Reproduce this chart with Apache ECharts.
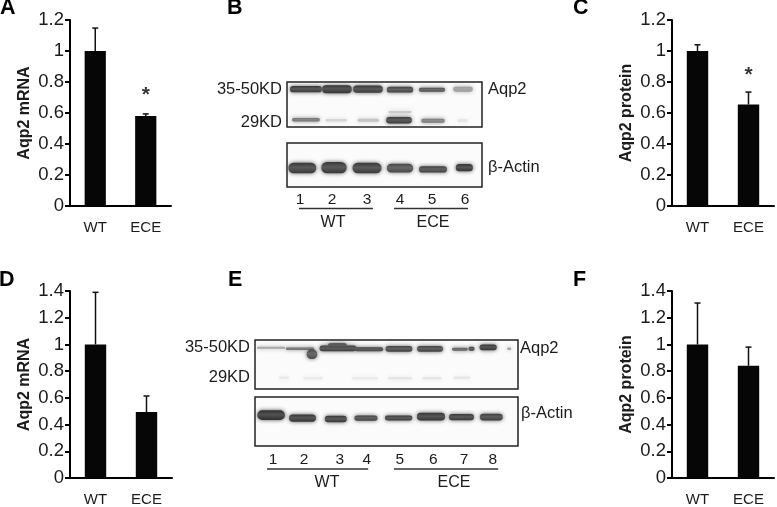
<!DOCTYPE html>
<html>
<head>
<meta charset="utf-8">
<style>
  html, body { margin: 0; padding: 0; background: #fff; }
  #chart { width: 777px; height: 507px; }
</style>
</head>
<body>
<div id="chart"></div>
<script src="https://cdn.jsdelivr.net/npm/echarts@6/dist/echarts.min.js"></script>
<script>
const categories = ['WT', 'ECE']
const groupNames = ['WT', 'ECE']

// bar heights and the top of each error bar
const mrnaA = [1, 0.58]
const mrnaAErr = [1.148, 0.594]
const proteinC = [1, 0.655]
const proteinCErr = [1.04, 0.735]
const mrnaD = [1, 0.494]
const mrnaDErr = [1.39, 0.614]
const proteinF = [1, 0.84]
const proteinFErr = [1.31, 0.98]
const starA = [null, 0.715]
const starC = [null, 0.845]

// blot bands: [lane, level on membrane (0 top, 1 bottom), signal, width in lanes, height in levels]
const blotBAqp2 = [
  [1.18, 0.16, 0.9, 0.97, 0.14], [2.12, 0.16, 0.92, 0.9, 0.18], [3.06, 0.16, 0.9, 0.9, 0.16],
  [4.03, 0.17, 0.85, 0.8, 0.13], [5.0, 0.17, 0.78, 0.8, 0.09], [5.94, 0.16, 0.42, 0.6, 0.11],
  [4.03, 0.67, 0.2, 0.7, 0.05],
  [1.18, 0.84, 0.62, 0.85, 0.08], [2.1, 0.85, 0.14, 0.65, 0.06], [3.07, 0.85, 0.24, 0.65, 0.07],
  [4.0, 0.85, 0.88, 0.78, 0.14], [5.03, 0.86, 0.58, 0.72, 0.09], [5.93, 0.86, 0.05, 0.3, 0.06]
]
const blotBActin = [
  [1.07, 0.57, 0.9, 0.85, 0.24], [2.03, 0.56, 0.9, 0.77, 0.26], [3.03, 0.57, 0.9, 0.88, 0.24],
  [4.03, 0.57, 0.82, 0.8, 0.2], [5.03, 0.6, 0.85, 0.85, 0.14], [5.98, 0.56, 0.92, 0.52, 0.16]
]
const blotEAqp2 = [
  [0.94, 0.16, 0.4, 0.9, 0.04], [1.86, 0.18, 0.65, 0.9, 0.05], [2.24, 0.29, 0.8, 0.34, 0.2],
  [3.07, 0.17, 0.88, 1.18, 0.12], [3.05, 0.11, 0.85, 0.6, 0.09], [4.06, 0.19, 0.85, 0.9, 0.08],
  [5.01, 0.18, 0.85, 0.86, 0.12], [6.0, 0.18, 0.85, 0.83, 0.12], [6.95, 0.19, 0.72, 0.5, 0.06],
  [7.32, 0.18, 0.85, 0.2, 0.08], [7.85, 0.15, 0.92, 0.55, 0.12], [8.52, 0.18, 0.4, 0.13, 0.05],
  [1.35, 0.77, 0.03, 0.32, 0.05], [2.27, 0.78, 0.02, 0.62, 0.05], [3.93, 0.78, 0.02, 0.82, 0.05],
  [5.04, 0.78, 0.05, 0.76, 0.05], [6.06, 0.78, 0.05, 0.6, 0.05], [7.02, 0.77, 0.04, 0.54, 0.05]
]
const blotEActin = [
  [0.94, 0.37, 0.95, 0.88, 0.2], [1.94, 0.43, 0.92, 0.86, 0.15], [3.0, 0.45, 0.9, 0.7, 0.13],
  [3.96, 0.43, 0.85, 0.74, 0.11], [5.0, 0.43, 0.88, 0.88, 0.1], [6.03, 0.4, 0.92, 0.9, 0.16],
  [7.0, 0.41, 0.9, 0.8, 0.13], [7.95, 0.41, 0.88, 0.73, 0.14]
]

// lane number positions, in lanes, and [start, end, label position] of each group line
const lanesB = [1, 1.97, 3.03, 4.03, 5, 6]
const lanesE = [1, 1.99, 3.13, 3.99, 5.04, 6.1, 7.08, 8]
const groupsB = [[0.97, 3.21, 2.0], [3.85, 6.09, 5.03]]
const groupsE = [[0.81, 4.03, 2.72], [4.85, 8.17, 6.76]]

const font = '"Liberation Sans", Arial, sans-serif'
const ink = '#1c1c1c'

const grids = []
const xAxes = []
const yAxes = []
const series = []

// one bar panel of the figure
function addBars(rect, title, yMax, values, errTops, stars) {
  const i = grids.length
  grids.push(rect)
  xAxes.push({
    gridIndex: i,
    type: 'category',
    data: categories,
    axisLine: { lineStyle: { color: '#000', width: 2 } },
    axisTick: { length: 4, lineStyle: { color: '#000', width: 2 } },
    axisLabel: { color: ink, fontFamily: font, fontSize: 15, margin: 14 },
  })
  yAxes.push({
    gridIndex: i,
    type: 'value',
    min: 0,
    max: yMax,
    interval: 0.2,
    name: title,
    nameLocation: 'middle',
    nameGap: rect.nameGap,
    nameTextStyle: { color: ink, fontFamily: font, fontSize: 16, fontWeight: 'bold' },
    splitLine: { show: false },
    axisLine: { show: true, lineStyle: { color: '#000', width: 2 } },
    axisTick: { show: true, length: 5, lineStyle: { color: '#000', width: 2 } },
    axisLabel: { color: ink, fontFamily: font, fontSize: 18.5, margin: 6 },
  })
  series.push({
    type: 'bar',
    xAxisIndex: i,
    yAxisIndex: i,
    data: values,
    barWidth: '42%',
    itemStyle: { color: '#060606' },
    silent: true,
  })
  series.push({
    type: 'custom',
    xAxisIndex: i,
    yAxisIndex: i,
    data: categories.map((c, k) => [k, values[k], errTops[k]]),
    renderItem(params, api) {
      const base = api.coord([api.value(0), api.value(1)])
      const top = api.coord([api.value(0), api.value(2)])
      const line = { stroke: '#111', lineWidth: 1.5 }
      return {
        type: 'group',
        children: [
          { type: 'line', shape: { x1: base[0], y1: base[1], x2: top[0], y2: top[1] }, style: line },
          { type: 'line', shape: { x1: top[0] - 3, y1: top[1], x2: top[0] + 3, y2: top[1] }, style: line },
        ],
      }
    },
    silent: true,
  })
  if (stars) {
    series.push({
      type: 'scatter',
      xAxisIndex: i,
      yAxisIndex: i,
      data: stars,
      symbolSize: 1,
      itemStyle: { color: 'transparent' },
      label: { show: true, position: 'inside', formatter: '*', color: '#000', fontFamily: font, fontSize: 21, fontWeight: 'bold' },
      silent: true,
    })
  }
}

// one membrane box with its bands
function addBlot(rect, laneMin, laneMax, bands, sideLabels, lanes, groups) {
  const i = grids.length
  grids.push({ ...rect, show: true, borderColor: '#222', borderWidth: 1.5, backgroundColor: '#fbfbfb' })
  xAxes.push({
    gridIndex: i,
    type: 'value',
    min: laneMin,
    max: laneMax,
    splitLine: { show: false },
    axisLine: { show: false },
    axisTick: { show: false },
    axisLabel: lanes
      ? {
          show: true,
          customValues: lanes,
          formatter: v => String(lanes.indexOf(v) + 1),
          color: ink,
          fontFamily: font,
          fontSize: 15.5,
          margin: rect.laneMargin,
        }
      : { show: false },
  })
  yAxes.push({
    gridIndex: i,
    type: 'value',
    inverse: true,
    min: 0,
    max: 1,
    splitLine: { show: false },
    axisLine: { show: false },
    axisTick: { show: false },
    axisLabel: sideLabels
      ? {
          show: true,
          customValues: sideLabels.map(d => d[0]),
          formatter: v => sideLabels.find(d => d[0] === v)[1],
          color: ink,
          fontFamily: font,
          fontSize: 16.5,
          margin: 5,
        }
      : { show: false },
  })
  series.push({
    type: 'custom',
    xAxisIndex: i,
    yAxisIndex: i,
    data: bands,
    renderItem(params, api) {
      const lane = api.value(0)
      const level = api.value(1)
      const signal = api.value(2)
      const p0 = api.coord([lane - api.value(3) / 2, level - api.value(4) / 2])
      const p1 = api.coord([lane + api.value(3) / 2, level + api.value(4) / 2])
      const g = Math.round(238 - signal * 165)
      const core = `rgb(${g},${g},${g})`
      const dark = Math.round(g * (1 - 0.45 * signal * signal))
      const rim = `rgb(${dark},${dark},${dark})`
      return {
        type: 'rect',
        shape: { x: p0[0], y: p0[1], width: p1[0] - p0[0], height: p1[1] - p0[1], r: (p1[1] - p0[1]) / 2 },
        style: {
          // dark rims with a lighter middle on the strong bands
          fill: {
            type: 'linear', x: 0, y: 0, x2: 0, y2: 1,
            colorStops: [
              { offset: 0, color: rim },
              { offset: 0.45, color: core },
              { offset: 1, color: rim },
            ],
          },
          shadowBlur: 4,
          shadowColor: core,
        },
      }
    },
    silent: true,
  })
  if (groups) {
    series.push({
      type: 'custom',
      xAxisIndex: i,
      yAxisIndex: i,
      data: groups.map((g, k) => [g[0], g[1], g[2], k]),
      renderItem(params, api) {
        const a = api.coord([api.value(0), rect.lineLevel])
        const b = api.coord([api.value(1), rect.lineLevel])
        const t = api.coord([api.value(2), rect.textLevel])
        return {
          type: 'group',
          children: [
            { type: 'line', shape: { x1: a[0], y1: a[1], x2: b[0], y2: b[1] }, style: { stroke: '#333', lineWidth: 1.5 } },
            {
              type: 'text',
              x: t[0],
              y: t[1],
              style: {
                text: groupNames[api.value(3)],
                fill: ink,
                font: `16px ${font}`,
                textAlign: 'center',
                textVerticalAlign: 'middle',
              },
            },
          ],
        }
      },
      silent: true,
    })
  }
}

addBars({ left: 70, top: 20, width: 101, height: 186, nameGap: 37 }, 'Aqp2 mRNA', 1.2, mrnaA, mrnaAErr, starA)
addBars({ left: 672, top: 20, width: 102, height: 186, nameGap: 37 }, 'Aqp2 protein', 1.2, proteinC, proteinCErr, starC)
addBars({ left: 70, top: 291, width: 102, height: 187, nameGap: 37 }, 'Aqp2 mRNA', 1.4, mrnaD, mrnaDErr)
addBars({ left: 672, top: 291, width: 102, height: 187, nameGap: 37 }, 'Aqp2 protein', 1.4, proteinF, proteinFErr)

addBlot({ left: 287, top: 82, width: 195, height: 45 }, 0.606, 6.515, blotBAqp2, [[0.16, '35-50KD'], [0.89, '29KD']])
addBlot({ left: 287, top: 143, width: 195, height: 44, lineLevel: 1.49, textLevel: 1.81, laneMargin: 5 }, 0.606, 6.515, blotBActin, null, lanesB, groupsB)
addBlot({ left: 255, top: 340, width: 263, height: 49 }, 0.427, 8.8, blotEAqp2, [[0.16, '35-50KD'], [0.76, '29KD']])
addBlot({ left: 255, top: 397, width: 263, height: 49, lineLevel: 1.47, textLevel: 1.75, laneMargin: 6 }, 0.427, 8.8, blotEActin, null, lanesE, groupsE)

function note(text, x, y, size, weight) {
  return {
    type: 'text',
    x,
    y,
    style: { text, fill: weight ? '#000' : ink, font: `${weight || 'normal'} ${size}px ${font}`, textVerticalAlign: 'middle' },
  }
}

const chart = echarts.init(document.getElementById('chart'))
chart.setOption({
  animation: false,
  backgroundColor: '#fff',
  grid: grids,
  xAxis: xAxes,
  yAxis: yAxes,
  series,
  graphic: [
    note('A', 0, 8.5, 21.5, 'bold'),
    note('B', 227, 8.5, 21.5, 'bold'),
    note('C', 573, 8.5, 21.5, 'bold'),
    note('D', -1, 280.5, 21.5, 'bold'),
    note('E', 228, 280, 21.5, 'bold'),
    note('F', 573, 280, 21.5, 'bold'),
    note('Aqp2', 488, 89, 16.5),
    note('β-Actin', 488, 167, 16.5),
    note('Aqp2', 520, 348, 16.5),
    note('β-Actin', 521, 413, 16.5),
  ],
})
</script>
</body>
</html>
